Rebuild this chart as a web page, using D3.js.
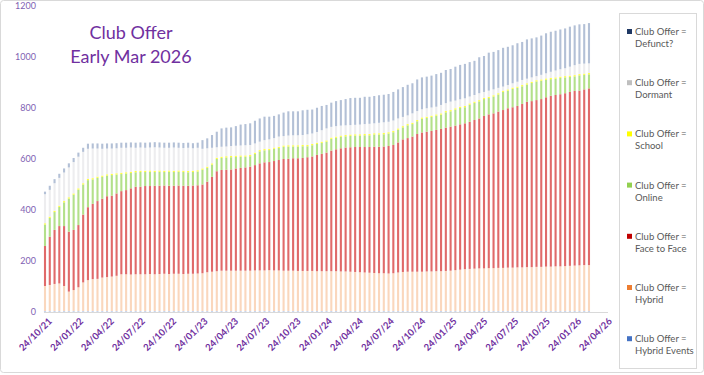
<!DOCTYPE html>
<html>
<head>
<meta charset="utf-8">
<script src="https://cdn.jsdelivr.net/npm/d3@7"></script>
<style>
  body { margin: 0; background: #fff; }
  text { font-family: Lato, "Open Sans", sans-serif; }
</style>
</head>
<body>
<div id="chart"></div>
<script>
// fortnightly snapshot dates
var dates = [
  "24/10/21","07/11/21","21/11/21","05/12/21","19/12/21",
  "02/01/22","16/01/22","30/01/22","13/02/22","27/02/22","13/03/22","27/03/22","10/04/22","24/04/22","08/05/22","22/05/22","05/06/22","19/06/22","03/07/22","17/07/22","31/07/22","14/08/22","28/08/22","11/09/22","25/09/22","09/10/22","23/10/22","06/11/22","20/11/22","04/12/22","18/12/22",
  "01/01/23","15/01/23","29/01/23","12/02/23","26/02/23","12/03/23","26/03/23","09/04/23","23/04/23","07/05/23","21/05/23","04/06/23","18/06/23","02/07/23","16/07/23","30/07/23","13/08/23","27/08/23","10/09/23","24/09/23","08/10/23","22/10/23","05/11/23","19/11/23","03/12/23","17/12/23","31/12/23",
  "14/01/24","28/01/24","11/02/24","25/02/24","10/03/24","24/03/24","07/04/24","21/04/24","05/05/24","19/05/24","02/06/24","16/06/24","30/06/24","14/07/24","28/07/24","11/08/24","25/08/24","08/09/24","22/09/24","06/10/24","20/10/24","03/11/24","17/11/24","01/12/24","15/12/24","29/12/24",
  "12/01/25","26/01/25","09/02/25","23/02/25","09/03/25","23/03/25","06/04/25","20/04/25","04/05/25","18/05/25","01/06/25","15/06/25","29/06/25","13/07/25","27/07/25","10/08/25","24/08/25","07/09/25","21/09/25","05/10/25","19/10/25","02/11/25","16/11/25","30/11/25","14/12/25","28/12/25",
  "11/01/26","25/01/26","08/02/26","22/02/26","08/03/26"
];

var tickLabels = ["24/10/21","24/01/22","24/04/22","24/07/22","24/10/22","24/01/23","24/04/23","24/07/23","24/10/23",
  "24/01/24","24/04/24","24/07/24","24/10/24","24/01/25","24/04/25","24/07/25","24/10/25","24/01/26","24/04/26"];
var yTicks = [0, 200, 400, 600, 800, 1000, 1200];

var hybridEvents = [
  4,4,4,4,4,4,4,4,4,4, 4,4,4,4,4,4,4,4,4,4, 4,4,4,4,4,4,4,4,4,4, 4,4,4,4,4,4,4,4,4,4,
  4,4,4,4,4,4,4,4,4,4, 4,4,4,4,4,4,4,4,4,4, 4,4,4,4,4,4,4,4,4,4, 4,4,4,4,4,4,4,4,4,4,
  4,4,4,4,4,4,4,4,4,4, 4,4,4,4,4,4,4,4,4,4, 4,4,4,4,4,4,4,4,4,4, 4,4,4,4,4
];
var hybrid = [
  98,102,106,108,98,76,82,93,112,121, 125,126,131,133,135,138,144,144,143,144,
  144,144,145,144,145,146,145,146,146,145, 146,146,147,148,152,154,156,158,158,158,
  158,158,158,158,159,159,159,160,159,159, 158,158,158,157,157,157,157,156,156,156,
  156,156,155,155,154,153,152,151,150,149, 148,148,147,148,151,153,154,154,154,154,
  155,155,156,156,157,158,160,162,164,165, 166,167,167,168,168,169,169,170,170,171,
  171,172,172,173,173,174,174,175,175,176, 177,178,179,180,180
];
var faceToFace = [
  157,189,212,225,235,235,236,244,266,286, 295,305,309,317,317,323,326,330,338,343,
  343,346,345,347,346,346,346,345,346,346, 345,346,346,348,355,372,392,395,396,397,
  401,403,405,408,413,420,424,424,429,433, 438,439,441,442,443,446,449,456,460,465,
  473,478,483,486,488,490,491,492,493,495, 496,497,500,503,510,520,524,530,540,546,
  548,551,554,558,562,565,567,570,572,577, 583,588,598,603,607,613,619,625,629,633,
  641,648,651,654,658,664,670,672,675,678, 682,685,685,689,693
];
var online = [
  84,74,70,75,93,130,138,139,118,106, 96,91,86,81,81,74,67,65,60,57,
  58,55,56,54,55,53,55,54,54,54, 53,53,54,58,54,48,48,47,48,48,
  45,44,42,41,44,47,47,47,48,47, 48,48,46,46,46,43,44,43,43,43,
  46,45,45,44,45,45,45,46,46,48, 48,48,49,50,50,47,50,49,50,54,
  54,55,56,56,60,60,63,64,63,67, 67,67,66,64,66,67,71,69,72,71,
  69,68,71,73,72,69,65,64,64,62, 59,57,60,57,55
];
var school = [
  5,5,5,5,5,5,5,5,5,5, 5,5,5,5,5,5,5,5,5,5, 5,5,5,5,5,5,5,5,5,5, 5,5,5,5,5,5,5,5,5,5,
  5,5,5,5,5,5,5,5,5,5, 5,5,5,5,5,5,5,5,5,5, 5,5,5,5,5,5,5,5,5,5, 5,5,5,5,5,5,5,5,5,5,
  5,5,5,5,5,5,5,5,5,5, 5,5,5,5,5,5,5,5,5,5, 5,5,5,5,5,5,5,5,5,5, 5,5,5,5,5
];
var dormant = [
  114,105,108,109,112,117,123,124,123,118, 116,110,105,101,99,98,98,96,95,91,
  91,90,90,92,90,90,89,91,89,89, 91,88,88,77,72,61,41,39,38,39,
  39,39,40,39,36,33,35,37,37,40, 37,38,39,39,39,42,41,42,45,47,
  42,41,39,38,37,37,38,39,40,39, 41,42,41,41,39,36,34,37,35,32,
  33,32,30,33,31,33,30,29,30,27, 26,27,23,24,23,21,16,17,17,19,
  20,18,17,16,18,20,24,27,29,31, 35,39,40,39,38
];
var defunct = [
  10,16,16,16,16,16,16,16,16,20, 20,20,20,20,20,20,20,20,20,20,
  20,20,20,20,20,20,20,20,20,20, 20,20,20,34,39,50,61,72,74,73,
  77,82,83,85,89,91,92,89,87,87, 92,95,94,94,97,96,94,95,95,92,
  95,98,100,103,106,106,105,107,106,107, 108,108,109,112,114,117,120,118,124,125,
  124,125,128,126,130,128,133,135,135,135, 134,141,141,149,147,148,152,150,149,151,
  149,154,153,152,154,157,157,156,156,156, 157,156,155,155,158
];

// series, bottom of the stack first; bars are drawn washed out, legend uses the full colour
var series = [
  {key: "hybridEvents", name: "Hybrid Events", values: hybridEvents, color: "#4472c4", bar: "#c9d6ee"},
  {key: "hybrid", name: "Hybrid", values: hybrid, color: "#ed7d31", bar: "#fad7bd"},
  {key: "faceToFace", name: "Face to Face", values: faceToFace, color: "#c00000", bar: "#e06a6a"},
  {key: "online", name: "Online", values: online, color: "#92d050", bar: "#b3e08a"},
  {key: "school", name: "School", values: school, color: "#ffff00", bar: "#ffff40"},
  {key: "dormant", name: "Dormant", values: dormant, color: "#bfbfbf", bar: "#ededef"},
  {key: "defunct", name: "Defunct?", values: defunct, color: "#1f3864", bar: "#b3c0d6"}
];

var parseDate = d3.timeParse("%d/%m/%y");

var rows = dates.map(function(d, i) {
  var r = {date: parseDate(d)};
  series.forEach(function(s) { r[s.key] = s.values[i]; });
  return r;
});

var svgWidth = 704, svgHeight = 375;
var svg = d3.select("#chart").append("svg")
  .attr("width", svgWidth)
  .attr("height", svgHeight);

// outer border
svg.append("rect")
  .attr("x", 0.5).attr("y", 0.5)
  .attr("width", svgWidth - 1).attr("height", svgHeight - 3)
  .attr("rx", 3)
  .attr("fill", "#fff")
  .attr("stroke", "#d9d9d9");

var x = d3.scaleTime()
  .domain([parseDate(tickLabels[0]), parseDate(tickLabels[tickLabels.length - 1])])
  .range([45, 605]);

var y = d3.scaleLinear()
  .domain([0, 1200])
  .range([312, 6]);

var stacked = d3.stack().keys(series.map(function(s) { return s.key; }))(rows);

var barW = 2.1;

svg.append("g").selectAll("g")
  .data(stacked)
  .enter()
  .append("g")
  .attr("fill", function(d, i) { return series[i].bar; })
  .selectAll("rect")
  .data(function(d) { return d; })
  .enter()
  .append("rect")
  .attr("x", function(d) { return x(d.data.date) - barW / 2; })
  .attr("y", function(d) { return y(d[1]); })
  .attr("width", barW)
  .attr("height", function(d) { return Math.max(0, y(d[0]) - y(d[1])); });

// x axis
var xAxis = d3.axisBottom(x)
  .tickValues(tickLabels.map(parseDate))
  .tickFormat(d3.timeFormat("%d/%m/%y"))
  .tickSize(0);

var xg = svg.append("g")
  .attr("transform", "translate(0,312)")
  .call(xAxis);
xg.select(".domain").attr("stroke", "#d9d9d9").attr("d", "M44,0.5H608");
xg.selectAll(".tick text")
  .attr("fill", "#7030a0")
  .attr("font-size", 9.5)
  .attr("font-weight", "bold")
  .attr("text-anchor", "end")
  .attr("transform", "rotate(-45)")
  .attr("x", 0).attr("y", 0)
  .attr("dx", -2).attr("dy", 12);

// y axis
var yAxis = d3.axisLeft(y).tickValues(yTicks).tickFormat(d3.format("d")).tickSize(0).tickPadding(0);
var yg = svg.append("g")
  .attr("transform", "translate(36,0)")
  .call(yAxis);
yg.select(".domain").remove();
yg.selectAll("text")
  .attr("fill", "#7f5fb3")
  .attr("font-size", 9);

// title
svg.append("text")
  .attr("x", 131).attr("y", 39)
  .attr("text-anchor", "middle")
  .attr("fill", "#7030a0")
  .attr("font-size", 18)
  .text("Club Offer");
svg.append("text")
  .attr("x", 131).attr("y", 63)
  .attr("text-anchor", "middle")
  .attr("fill", "#7030a0")
  .attr("font-size", 18)
  .text("Early Mar 2026");

// legend
svg.append("rect")
  .attr("x", 619.5).attr("y", 13.5)
  .attr("width", 77).attr("height", 355)
  .attr("fill", "none")
  .attr("stroke", "#d9d9d9");

var lg = svg.append("g").selectAll("g")
  .data(series.slice().reverse())
  .enter()
  .append("g")
  .attr("transform", function(d, i) { return "translate(627," + (32 + i * 51.2) + ")"; });

lg.append("rect")
  .attr("x", 0).attr("y", -3)
  .attr("width", 5).attr("height", 5)
  .attr("fill", function(d) { return d.color; });

lg.append("text")
  .attr("x", 8).attr("y", 3)
  .attr("fill", "#595959")
  .attr("font-size", 9.5)
  .text("Club Offer =");
lg.append("text")
  .attr("x", 8).attr("y", 15)
  .attr("fill", "#595959")
  .attr("font-size", 9.5)
  .text(function(d) { return d.name; });
</script>
</body>
</html>
